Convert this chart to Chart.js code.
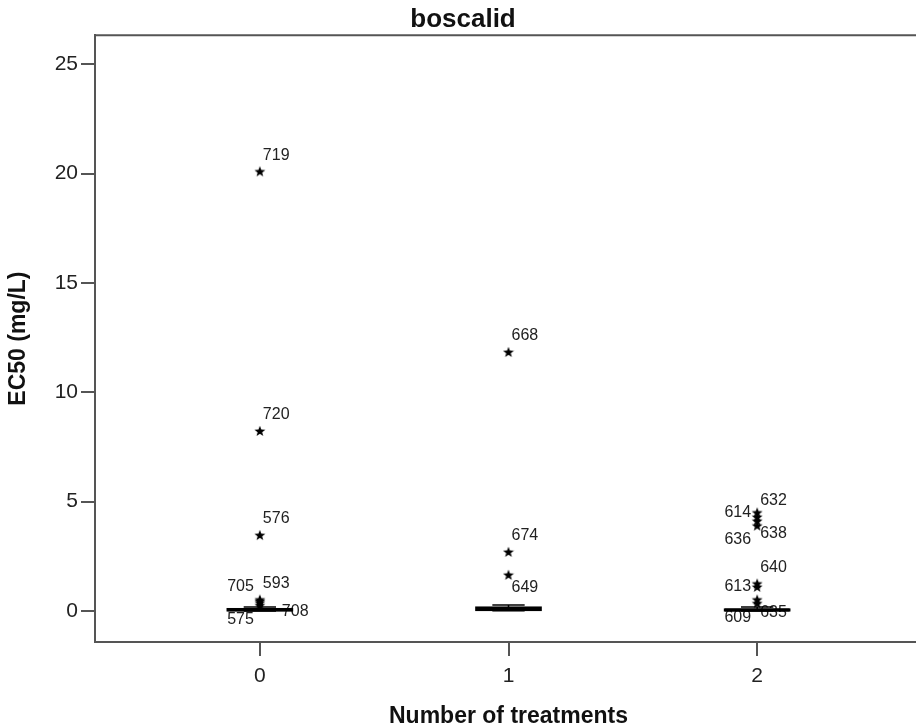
<!DOCTYPE html>
<html><head><meta charset="utf-8">
<script src="https://cdn.jsdelivr.net/npm/chart.js@4"></script>
<style>html,body{margin:0;padding:0;background:#fff;overflow:hidden}#c{display:block}</style>
</head><body><canvas id="c" width="928" height="730" style="width:928px;height:730px"></canvas>
<script>
const categories = ['0', '1', '2'];
const yTicks = [0, 5, 10, 15, 20, 25];
const whiskerLow = [0.00, 0.01, 0.00];
const q1 = [0.02, 0.04, 0.02];
const median = [0.05, 0.08, 0.04];
const q3 = [0.09, 0.16, 0.07];
const whiskerHigh = [0.18, 0.27, 0.18];
const outlierCat = [0, 0, 0, 0, 0, 0, 0, 1, 1, 1, 2, 2, 2, 2, 2, 2, 2, 2];
const outlierVal = [20.1, 8.23, 3.47, 0.52, 0.38, 0.45, 0.26, 11.84, 2.7, 1.65, 4.5, 4.3, 4.12, 3.9, 1.25, 1.1, 0.52, 0.35];
const outlierId = ['719', '720', '576', '593', '705', '708', '575', '668', '674', '649', '614', '632', '638', '636', '640', '613', '635', '609'];
const outlierPlace = ['ru', 'ru', 'ru', 'ru', 'lu', 'rf', 'ld', 'ru', 'ru', 'rd', 'l', 'ru', 'rd', 'ld', 'ru', 'l', 'rd', 'ld'];

const FONT = "'Liberation Sans', Arial, Helvetica, sans-serif";
Chart.defaults.font.family = FONT;
Chart.defaults.color = '#222';

function makeStar() {
  const c = document.createElement('canvas');
  c.width = 12; c.height = 12;
  const g = c.getContext('2d');
  g.fillStyle = '#000';
  g.beginPath();
  for (let i = 0; i < 10; i++) {
    const r = i % 2 ? 2.4 : 5.7;
    const a = -Math.PI / 2 + i * Math.PI / 5;
    g.lineTo(6 + r * Math.cos(a), 6.4 + r * Math.sin(a));
  }
  g.closePath();
  g.fill();
  return c;
}
const starImg = makeStar();

const placeOffsets = {
  ru: [3, -16, 'left'], lu: [-6, -16, 'right'], l: [-6, 0, 'right'],
  rd: [3, 13, 'left'], ld: [-6, 14, 'right'], rf: [22, 10, 'left']
};

const boxPlugin = {
  id: 'boxes',
  beforeDatasetsDraw(chart) {
    const { ctx, scales: { x, y } } = chart;
    ctx.save();
    ctx.font = "16px " + FONT;
    ctx.fillStyle = '#222';
    ctx.textBaseline = 'middle';
    outlierVal.forEach((v, i) => {
      const px = x.getPixelForValue(outlierCat[i]);
      const py = y.getPixelForValue(v);
      const o = placeOffsets[outlierPlace[i]];
      ctx.textAlign = o[2];
      ctx.fillText(outlierId[i], px + o[0], py + o[1]);
    });
    ctx.restore();
    const unit = x.getPixelForValue(1) - x.getPixelForValue(0);
    const bw = unit * 0.26, cw = bw / 2;
    ctx.save();
    ctx.strokeStyle = '#000';
    categories.forEach((c, i) => {
      const cx = x.getPixelForValue(i);
      const yl = y.getPixelForValue(whiskerLow[i]);
      const y1 = y.getPixelForValue(q1[i]);
      const ym = y.getPixelForValue(median[i]);
      const y3 = y.getPixelForValue(q3[i]);
      const yh = y.getPixelForValue(whiskerHigh[i]);
      ctx.lineWidth = 1.5;
      ctx.beginPath();
      ctx.moveTo(cx, y3); ctx.lineTo(cx, yh);
      ctx.moveTo(cx, y1); ctx.lineTo(cx, yl);
      ctx.moveTo(cx - cw / 2, yh); ctx.lineTo(cx + cw / 2, yh);
      ctx.moveTo(cx - cw / 2, yl); ctx.lineTo(cx + cw / 2, yl);
      ctx.stroke();
      ctx.lineWidth = 2;
      ctx.strokeRect(cx - bw / 2, y3, bw, y1 - y3);
      ctx.lineWidth = 3;
      ctx.beginPath();
      ctx.moveTo(cx - bw / 2, ym); ctx.lineTo(cx + bw / 2, ym);
      ctx.stroke();
    });
    ctx.restore();
  },
  afterDraw(chart) {
    const { ctx, chartArea: a } = chart;
    ctx.save();
    ctx.strokeStyle = '#555';
    ctx.lineWidth = 2;
    ctx.beginPath();
    ctx.moveTo(a.left - 1, a.top); ctx.lineTo(a.right, a.top); ctx.lineTo(a.right, a.bottom);
    ctx.stroke();
    ctx.restore();
  }
};

new Chart(document.getElementById('c'), {
  type: 'scatter',
  data: {
    datasets: [{
      data: outlierVal.map((v, i) => ({ x: outlierCat[i], y: v })),
      pointStyle: starImg,
      pointRadius: 5,
      backgroundColor: '#000',
      borderColor: '#000'
    }]
  },
  options: {
    responsive: false,
    animation: false,
    layout: { padding: { top: 0, left: 0, right: 2, bottom: 0 } },
    plugins: {
      legend: { display: false },
      tooltip: { enabled: false },
      title: {
        display: true, text: 'boscalid', color: '#111',
        font: { size: 26, weight: 'bold' }, padding: { top: 4, bottom: 0 }
      }
    },
    scales: {
      x: {
        type: 'linear', min: -0.663, max: 2.663,
        afterBuildTicks: s => { s.ticks = categories.map((c, i) => ({ value: i })); },
        afterFit: s => { s.height = 88; },
        ticks: { callback: v => categories[v], font: { size: 21 }, color: '#222', padding: 8, maxRotation: 0, autoSkip: false },
        grid: { drawOnChartArea: false, tickLength: 14, color: '#555', lineWidth: 2 },
        border: { color: '#555', width: 2 },
        title: { display: true, text: 'Number of treatments', color: '#111', font: { size: 23, weight: 'bold' }, padding: { top: 0, bottom: 0 } }
      },
      y: {
        type: 'linear', min: -1.42, max: 26.33,
        afterBuildTicks: s => { s.ticks = yTicks.map(v => ({ value: v })); },
        afterFit: s => { s.width = 95; },
        ticks: { font: { size: 21 }, color: '#222', padding: 3 },
        grid: { drawOnChartArea: false, tickLength: 14, color: '#555', lineWidth: 2 },
        border: { color: '#555', width: 2 },
        title: { display: true, text: 'EC50 (mg/L)', color: '#111', font: { size: 23, weight: 'bold' }, padding: { top: 5, bottom: 0 } }
      }
    }
  },
  plugins: [boxPlugin]
});
</script>
</body></html>
